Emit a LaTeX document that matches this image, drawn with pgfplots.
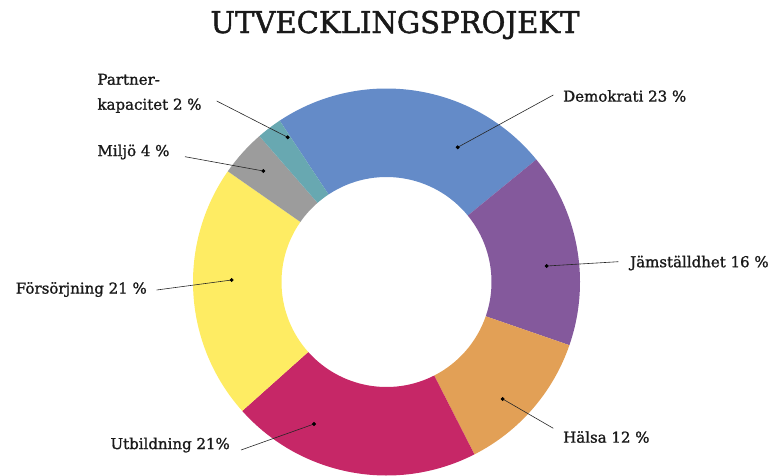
\documentclass[border=0pt]{standalone}
\usepackage{pgfplots}
\pgfplotsset{compat=1.18}
\usepackage{pgfplotstable}
\usepackage{fontspec}
\setmainfont{DejaVu Serif}
\newfontfamily\labfont{DejaVu Serif}[FakeBold=1.2]
\newfontfamily\titlefont{DejaVu Serif}[FakeStretch=0.97,FakeBold=1.5]
\definecolor{cDem}{HTML}{648BC8}
\definecolor{cJam}{HTML}{84599C}
\definecolor{cHal}{HTML}{E2A056}
\definecolor{cUtb}{HTML}{C62767}
\definecolor{cFor}{HTML}{FEEC63}
\definecolor{cMil}{HTML}{9C9C9C}
\definecolor{cPar}{HTML}{68A8B1}
% share of each slice (percent), clockwise from the top left
\pgfplotstableread{
name value color
Demokrati 23.4 cDem
Jamstalldhet 16.2 cJam
Halsa 12.2 cHal
Utbildning 20.9 cUtb
Forsorjning 21.3 cFor
Miljo 3.9 cMil
Partnerkapacitet 2.1 cPar
}\slices
\tikzset{lab/.style={inner sep=0pt,text=black!90,font=\labfont\fontsize{15}{25}\selectfont}}
\pgfplotsset{leader/.style={black!85,line width=0.6pt,mark=*,mark size=1.6pt,mark indices={2},mark options={solid,fill=black,draw=black},forget plot}}
\begin{document}
\begin{tikzpicture}
\def\cx{386.5}\def\cy{193}\def\Ro{193.5}\def\Ri{105}
\begin{axis}[x=1pt,y=1pt,xmin=0,xmax=781,ymin=0,ymax=475,
  hide axis,scale only axis]
\pgfplotstablegetrowsof{\slices}
\pgfmathtruncatemacro\N{\pgfplotsretval-1}
\def\cur{123.5}
\pgfplotsforeachungrouped \i in {0,...,\N}{%
  \pgfplotstablegetelem{\i}{value}\of\slices \let\v\pgfplotsretval
  \pgfplotstablegetelem{\i}{color}\of\slices \let\c\pgfplotsretval
  \pgfmathsetmacro\nxt{\cur-3.6*\v}%
  \edef\temp{\noexpand\fill[\c] (axis cs:{\cx+\Ro*cos(\cur)},{\cy+\Ro*sin(\cur)}) arc[start angle=\cur, end angle=\nxt, radius=\Ro] -- (axis cs:{\cx+\Ri*cos(\nxt)},{\cy+\Ri*sin(\nxt)}) arc[start angle=\nxt, end angle=\cur, radius=\Ri] -- cycle;}%
  \temp
  \let\cur\nxt
}
\addplot[leader] coordinates {(553.3,380) (457.7,327.7)};
\addplot[leader] coordinates {(618.3,213.3) (546.7,209)};
\addplot[leader] coordinates {(553.3,46.7) (502.7,76)};
\addplot[leader] coordinates {(241,25) (314,51)};
\addplot[leader] coordinates {(156.7,185) (231.7,195)};
\addplot[leader] coordinates {(185,318.3) (263.3,304)};
\addplot[leader] coordinates {(216.7,374) (287.7,337.7)};
\node[lab,anchor=west] at (axis cs:563,379) {Demokrati 23 \%};
\node[lab,anchor=west] at (axis cs:630,212) {Jämställdhet 16 \%};
\node[lab,anchor=west] at (axis cs:563,38) {Hälsa 12 \%};
\node[lab,anchor=east] at (axis cs:230,30) {Utbildning 21\%};
\node[lab,anchor=east] at (axis cs:147,185.5) {Försörjning 21 \%};
\node[lab,anchor=west] at (axis cs:97.3,323) {Miljö 4 \%};
\node[lab,anchor=west,align=left] at (axis cs:97.3,381.7) {Partner-\\kapacitet 2 \%};
\node[inner sep=0pt,text=black!90,font=\titlefont\fontsize{30}{36}\selectfont] at (axis cs:395,450) {UTVECKLINGSPROJEKT};
\end{axis}
\pgfresetboundingbox
\path (current axis.south west) rectangle (current axis.north east);
\end{tikzpicture}
\end{document}
